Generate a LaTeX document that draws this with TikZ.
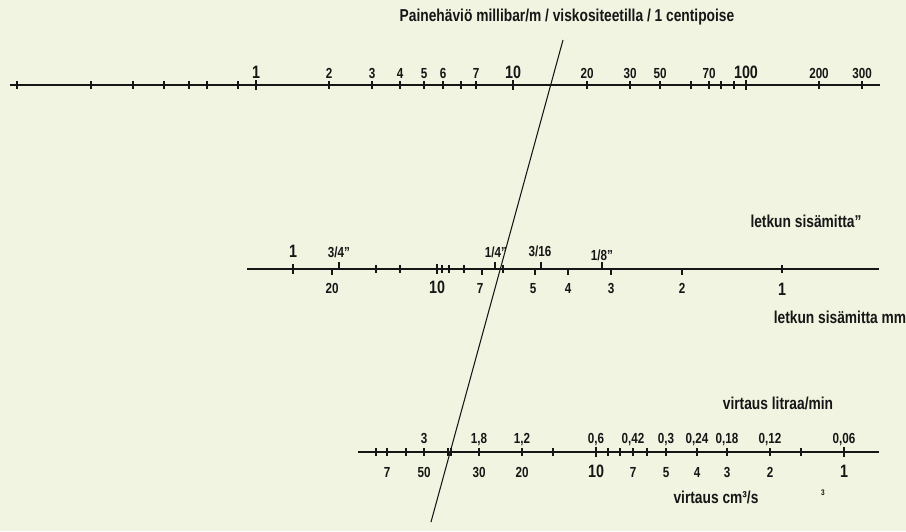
\documentclass[tikz,border=0pt]{standalone}
\usepackage{fontspec}
\setmainfont{Liberation Sans}[FakeStretch=0.8]
\usepackage{tikz}

\definecolor{paper}{RGB}{240,244,224}
\definecolor{ink}{RGB}{22,22,22}

\begin{document}
\begin{tikzpicture}[
    x=0.02cm, y=-0.02cm,
    axis/.style={draw=ink, line width=0.6pt},
    tick/.style={draw=ink, line width=0.6pt},
    major/.style={draw=ink, line width=1.4pt},
    lbl/.style={font=\bfseries\fontsize{8.3}{10}\selectfont, text=ink, inner sep=0pt, anchor=base},
    biglbl/.style={font=\bfseries\fontsize{10.2}{12}\selectfont, text=ink, inner sep=0pt, anchor=base},
    ttl/.style={font=\bfseries\fontsize{9.8}{12}\selectfont, text=ink, inner sep=0pt, anchor=base}
]
    \fill[paper] (0,0) rectangle (906,531);
    \useasboundingbox (0,0) rectangle (906,531);

    % Pressure drop scale
    \node[ttl] (ptitle) at (567,21) {Painehäviö millibar/m / viskositeetilla / 1 centipoise};
    \coordinate (pstart) at (10,85);
    \coordinate (pend) at (880,85);
    \draw[axis] (pstart) -- (pend);
    \foreach \x in {17,91,133,164,189,207,238,329,372,400,424,443,461,476,587,630,660,691,709,721,734,819,862}
        \draw[tick] (\x,81) -- (\x,89);
    \foreach \x in {256,513,746}
        \draw[major] (\x,80) -- (\x,90);
    \foreach \x/\t [count=\i] in {329/2,372/3,400/4,424/5,443/6,476/7,587/20,630/30,660/50,709/70,819/200,862/300}
        \node[lbl] (p\i) at (\x,78) {\t};
    \node[biglbl] (pone) at (256,78) {1};
    \node[biglbl] (pten) at (513,78) {10};
    \node[biglbl] (phundred) at (746,78) {100};

    % Hose inner diameter scale
    \node[ttl] (hinch) at (806,227) {letkun sisämitta"};
    \node[ttl] (hmm) at (840,323) {letkun sisämitta mm};
    \coordinate (hstart) at (247,269);
    \coordinate (hend) at (879,269);
    \draw[axis] (hstart) -- (hend);
    \foreach \x in {376,400,442,449,464,503,782}
        \draw[tick] (\x,265) -- (\x,273);
    \foreach \x in {339,495,541,602}
        \draw[tick] (\x,262) -- (\x,270);
    \foreach \x in {332,482,535,568,611,682}
        \draw[tick] (\x,268) -- (\x,275);
    \draw[major] (293,264) -- (293,274);
    \draw[major] (437,264) -- (437,274);
    \node[biglbl] (hone) at (293,257) {1};
    \foreach \x/\t/\b [count=\i] in {339/3\slash4"/257,496/1\slash4"/257,540/3\slash16/256,602/1\slash8"/260}
        \node[lbl] (hi\i) at (\x,\b) {\t};
    \foreach \x/\t [count=\i] in {332/20,480/7,533/5,568/4,611/3,682/2}
        \node[lbl] (hm\i) at (\x,293) {\t};
    \node[biglbl] (hmten) at (437,293) {10};
    \node[biglbl] (hmone) at (782,295) {1};

    % Flow scale
    \node[ttl] (flitre) at (778,409) {virtaus litraa/min};
    \node[ttl] (fcm) at (716,503) {virtaus cm³/s};
    \node[lbl, font=\bfseries\fontsize{4.6}{6}\selectfont] (fsup) at (823,495) {3};
    \coordinate (fstart) at (358,452);
    \coordinate (fend) at (879,452);
    \draw[axis] (fstart) -- (fend);
    \foreach \x in {376,387,406,424,448,451,479,522,553,608,620,633,647,666,697,727,770,801}
        \draw[tick] (\x,448) -- (\x,456);
    \foreach \x in {596,844}
        \draw[major] (\x,447) -- (\x,457);
    \foreach \x/\t [count=\i] in {424/3,479/{1,8},522/{1,2},596/{0,6},633/{0,42},666/{0,3},697/{0,24},727/{0,18},770/{0,12},844/{0,06}}
        \node[lbl] (fl\i) at (\x,443) {\t};
    \foreach \x/\t [count=\i] in {387/7,424/50,479/30,522/20,633/7,666/5,697/4,727/3,770/2}
        \node[lbl] (fc\i) at (\x,477) {\t};
    \node[biglbl] (fcten) at (596,477) {10};
    \node[biglbl] (fcone) at (844,477) {1};

    % Reading line
    \coordinate (rtop) at (563,40);
    \coordinate (rbottom) at (431,522);
    \draw[axis] (rtop) -- (rbottom);
\end{tikzpicture}
\end{document}
